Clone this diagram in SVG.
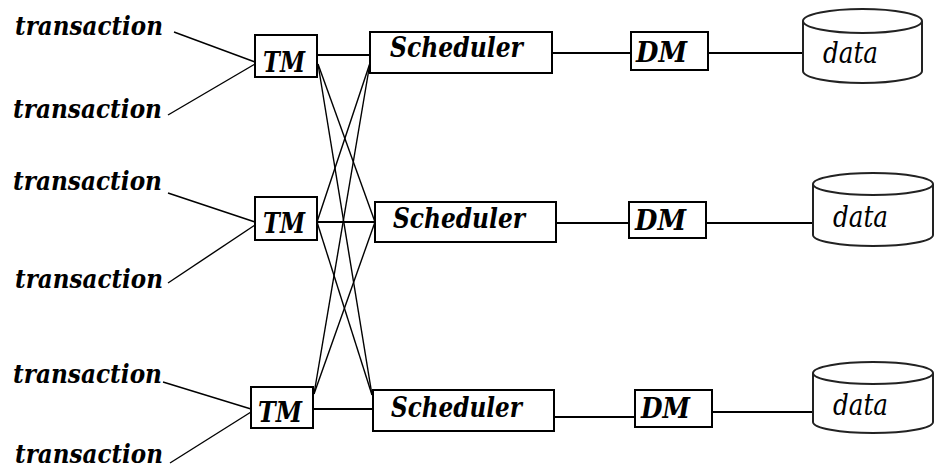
<svg xmlns="http://www.w3.org/2000/svg" width="935" height="469" viewBox="0 0 935 469">
  <style>
    .box { fill: #fff; stroke: #000; stroke-width: 2; }
    .cyl { fill: #fff; stroke: #222; stroke-width: 2; }
    .ln { stroke: #000; stroke-width: 1.4; fill: none; }
    .ln2 { stroke: #000; stroke-width: 1.8; fill: none; }
    .t { font-family: 'DejaVu Serif', 'Liberation Serif', serif; font-style: italic; font-weight: bold; }
    .d { font-family: 'DejaVu Serif', 'Liberation Serif', serif; font-style: italic; font-weight: normal; }
  </style>

  <!-- transaction inputs -->
  <g id="transactions" class="t" font-size="26">
    <text x="15" y="35" textLength="148" lengthAdjust="spacingAndGlyphs">transaction</text>
    <text x="13" y="118" textLength="149" lengthAdjust="spacingAndGlyphs">transaction</text>
    <text x="13" y="190" textLength="149" lengthAdjust="spacingAndGlyphs">transaction</text>
    <text x="15" y="288" textLength="148" lengthAdjust="spacingAndGlyphs">transaction</text>
    <text x="13" y="383" textLength="149" lengthAdjust="spacingAndGlyphs">transaction</text>
    <text x="15" y="463" textLength="148" lengthAdjust="spacingAndGlyphs">transaction</text>
  </g>

  <!-- connectors -->
  <g id="connectors">
    <!-- transactions to TMs -->
    <line class="ln" x1="174" y1="32" x2="255" y2="62"/>
    <line class="ln" x1="168" y1="115" x2="255" y2="64"/>
    <line class="ln" x1="168" y1="193" x2="255" y2="222"/>
    <line class="ln" x1="168" y1="283" x2="255" y2="225"/>
    <line class="ln" x1="163" y1="382" x2="251" y2="409"/>
    <line class="ln" x1="170" y1="463" x2="251" y2="412"/>
    <!-- TM to own scheduler -->
    <line class="ln2" x1="317" y1="55" x2="370" y2="55"/>
    <line class="ln2" x1="317" y1="222" x2="375" y2="222"/>
    <line class="ln2" x1="313" y1="409" x2="373" y2="409"/>
    <!-- TM to other schedulers -->
    <line class="ln" x1="318" y1="64" x2="375" y2="222"/>
    <line class="ln" x1="318" y1="64" x2="372" y2="395"/>
    <line class="ln" x1="317" y1="222" x2="370" y2="63"/>
    <line class="ln" x1="317" y1="222" x2="372" y2="395"/>
    <line class="ln" x1="314" y1="394" x2="370" y2="63"/>
    <line class="ln" x1="314" y1="394" x2="375" y2="222"/>
    <!-- scheduler to DM -->
    <line class="ln2" x1="552" y1="53" x2="631" y2="53"/>
    <line class="ln2" x1="556" y1="223" x2="629" y2="223"/>
    <line class="ln2" x1="554" y1="417" x2="635" y2="417"/>
    <!-- DM to data -->
    <line class="ln2" x1="708" y1="53" x2="803" y2="53"/>
    <line class="ln2" x1="706" y1="223" x2="813" y2="223"/>
    <line class="ln2" x1="712" y1="412" x2="813" y2="412"/>
  </g>

  <!-- transaction managers -->
  <g id="tm1" class="t" font-size="27">
    <rect class="box" x="255" y="35" width="62" height="42"/>
    <text x="263" y="72" textLength="42" lengthAdjust="spacingAndGlyphs">TM</text>
  </g>
  <g id="tm2" class="t" font-size="27">
    <rect class="box" x="255" y="197" width="62" height="43"/>
    <text x="263" y="233" textLength="42" lengthAdjust="spacingAndGlyphs">TM</text>
  </g>
  <g id="tm3" class="t" font-size="27">
    <rect class="box" x="251" y="387" width="62" height="41"/>
    <text x="258" y="422" textLength="44" lengthAdjust="spacingAndGlyphs">TM</text>
  </g>

  <!-- schedulers -->
  <g id="scheduler1" class="t" font-size="27">
    <rect class="box" x="370" y="32" width="182" height="41"/>
    <text x="390" y="57" textLength="133" lengthAdjust="spacingAndGlyphs">Scheduler</text>
  </g>
  <g id="scheduler2" class="t" font-size="27">
    <rect class="box" x="375" y="202" width="181" height="40"/>
    <text x="393" y="228" textLength="132" lengthAdjust="spacingAndGlyphs">Scheduler</text>
  </g>
  <g id="scheduler3" class="t" font-size="27">
    <rect class="box" x="373" y="390" width="181" height="41"/>
    <text x="391" y="417" textLength="131" lengthAdjust="spacingAndGlyphs">Scheduler</text>
  </g>

  <!-- data managers -->
  <g id="dm1" class="t" font-size="27">
    <rect class="box" x="631" y="32" width="77" height="38"/>
    <text x="636" y="62" textLength="51" lengthAdjust="spacingAndGlyphs">DM</text>
  </g>
  <g id="dm2" class="t" font-size="27">
    <rect class="box" x="629" y="202" width="77" height="36"/>
    <text x="635" y="230" textLength="51" lengthAdjust="spacingAndGlyphs">DM</text>
  </g>
  <g id="dm3" class="t" font-size="27">
    <rect class="box" x="635" y="390" width="77" height="37"/>
    <text x="641" y="418" textLength="49" lengthAdjust="spacingAndGlyphs">DM</text>
  </g>

  <!-- data stores -->
  <g id="data1" class="d" font-size="29">
    <path class="cyl" d="M803,21 L803,71 A59.5,12 0 0 0 922,71 L922,21"/>
    <ellipse class="cyl" cx="862.5" cy="21" rx="59.5" ry="12"/>
    <text x="823" y="63" textLength="55" lengthAdjust="spacingAndGlyphs">data</text>
  </g>
  <g id="data2" class="d" font-size="29">
    <path class="cyl" d="M813,184 L813,235 A60,11 0 0 0 933,235 L933,184"/>
    <ellipse class="cyl" cx="873" cy="184" rx="60" ry="11"/>
    <text x="833" y="227" textLength="55" lengthAdjust="spacingAndGlyphs">data</text>
  </g>
  <g id="data3" class="d" font-size="29">
    <path class="cyl" d="M813,373 L813,422 A60,11 0 0 0 933,422 L933,373"/>
    <ellipse class="cyl" cx="873" cy="373" rx="60" ry="11"/>
    <text x="833" y="415" textLength="55" lengthAdjust="spacingAndGlyphs">data</text>
  </g>
</svg>
